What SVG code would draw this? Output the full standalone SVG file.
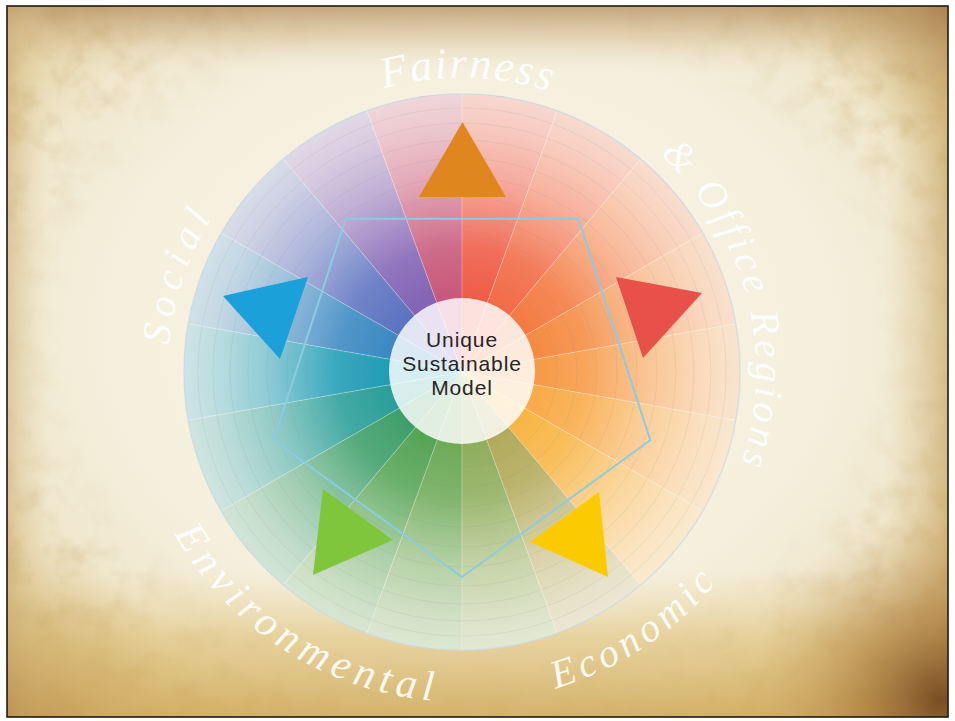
<svg xmlns="http://www.w3.org/2000/svg" xmlns:xlink="http://www.w3.org/1999/xlink" width="955" height="721" viewBox="0 0 955 721">
<defs>
<style>
.sep{stroke:#ffffff;stroke-opacity:0.35;stroke-width:0.9;fill:none}
.ring{fill:none;stroke:#8a8a8a;stroke-opacity:0.16;stroke-width:0.8}
.script{font-family:"Liberation Serif",serif;font-style:italic;fill:#ffffff;fill-opacity:0.9}
.label{font-family:"Liberation Sans",Arial,sans-serif;font-size:21px;letter-spacing:0.9px;fill:#262626;text-anchor:middle}
.tri{stroke:none}
</style>
<radialGradient id="paper" gradientUnits="userSpaceOnUse" cx="470" cy="330" r="560" gradientTransform="translate(470 330) scale(1 0.8) translate(-470 -330)">
<stop offset="0" stop-color="#f8f4e8"/>
<stop offset="0.65" stop-color="#f5efdd"/>
<stop offset="0.85" stop-color="#f0e7cd"/>
<stop offset="1" stop-color="#e6d4a6"/>
</radialGradient>
<linearGradient id="topBand" x1="0" y1="6" x2="0" y2="75" gradientUnits="userSpaceOnUse">
<stop offset="0" stop-color="#b89466" stop-opacity="0.8"/>
<stop offset="0.45" stop-color="#cdb083" stop-opacity="0.45"/>
<stop offset="1" stop-color="#ece2c8" stop-opacity="0"/>
</linearGradient>
<linearGradient id="botBand" x1="0" y1="570" x2="0" y2="717" gradientUnits="userSpaceOnUse">
<stop offset="0" stop-color="#e8d29a" stop-opacity="0"/>
<stop offset="0.45" stop-color="#dfc27a" stop-opacity="0.6"/>
<stop offset="1" stop-color="#cfa95a" stop-opacity="0.85"/>
</linearGradient>
<linearGradient id="rightBand" x1="885" y1="0" x2="948" y2="0" gradientUnits="userSpaceOnUse">
<stop offset="0" stop-color="#dcc48e" stop-opacity="0"/>
<stop offset="1" stop-color="#c4a060" stop-opacity="0.6"/>
</linearGradient>
<linearGradient id="leftBand" x1="7" y1="0" x2="50" y2="0" gradientUnits="userSpaceOnUse">
<stop offset="0" stop-color="#caa86c" stop-opacity="0.5"/>
<stop offset="1" stop-color="#e4d2a4" stop-opacity="0"/>
</linearGradient>
<radialGradient id="cornerBR" gradientUnits="userSpaceOnUse" cx="940" cy="700" r="190">
<stop offset="0" stop-color="#6a3c16" stop-opacity="0.85"/>
<stop offset="0.45" stop-color="#9a6428" stop-opacity="0.45"/>
<stop offset="1" stop-color="#c8a060" stop-opacity="0"/>
</radialGradient>
<radialGradient id="cornerTR" gradientUnits="userSpaceOnUse" cx="945" cy="8" r="130">
<stop offset="0" stop-color="#94693a" stop-opacity="0.5"/>
<stop offset="1" stop-color="#c8a060" stop-opacity="0"/>
</radialGradient>
<radialGradient id="cornerBL" gradientUnits="userSpaceOnUse" cx="8" cy="712" r="170">
<stop offset="0" stop-color="#a87a38" stop-opacity="0.45"/>
<stop offset="1" stop-color="#c8a060" stop-opacity="0"/>
</radialGradient>
<radialGradient id="edgeMaskG" gradientUnits="userSpaceOnUse" cx="470" cy="340" r="540" gradientTransform="translate(470 340) scale(1 0.78) translate(-470 -340)">
<stop offset="0" stop-color="#000"/>
<stop offset="0.75" stop-color="#000"/>
<stop offset="1" stop-color="#fff"/>
</radialGradient>
<mask id="edgeMask" maskUnits="userSpaceOnUse" x="0" y="0" width="955" height="721">
<rect x="0" y="0" width="955" height="721" fill="url(#edgeMaskG)"/>
</mask>
<filter id="grain" x="0" y="0" width="100%" height="100%" filterUnits="objectBoundingBox">
<feTurbulence type="fractalNoise" baseFrequency="0.035" numOctaves="4" seed="7"/>
<feColorMatrix type="matrix" values="0 0 0 0 0.55  0 0 0 0 0.38  0 0 0 0 0.15  2.2 0 0 0 -0.98"/>
</filter>
<radialGradient id="fade" gradientUnits="userSpaceOnUse" cx="462" cy="372" r="278">
<stop offset="0.26" stop-color="#ffffff" stop-opacity="0"/>
<stop offset="0.45" stop-color="#ffffff" stop-opacity="0.12"/>
<stop offset="0.7" stop-color="#fdf8f4" stop-opacity="0.5"/>
<stop offset="0.9" stop-color="#fbf7f2" stop-opacity="0.72"/>
<stop offset="1" stop-color="#f8f6f2" stop-opacity="0.8"/>
</radialGradient>
<path id="cw" d="M462,666 A294,294 0 1,1 462,78 A294,294 0 1,1 462,666"/>
<path id="ccw" d="M462,42 A330,330 0 1,0 462,702 A330,330 0 1,0 462,42"/>
</defs>

<rect x="0" y="0" width="955" height="721" fill="#ffffff"/>
<g id="background">
<rect x="7" y="6" width="941" height="711" fill="url(#paper)"/>
<rect x="7" y="6" width="941" height="711" fill="#9a6a30" filter="url(#grain)" mask="url(#edgeMask)" opacity="0.5"/>
<rect x="7" y="6" width="941" height="75" fill="url(#topBand)"/>
<rect x="7" y="570" width="941" height="147" fill="url(#botBand)"/>
<rect x="885" y="6" width="63" height="711" fill="url(#rightBand)"/>
<rect x="7" y="6" width="43" height="711" fill="url(#leftBand)"/>
<rect x="7" y="6" width="941" height="711" fill="url(#cornerBR)"/>
<rect x="7" y="6" width="941" height="711" fill="url(#cornerTR)"/>
<rect x="7" y="6" width="941" height="711" fill="url(#cornerBL)"/>
<rect x="7" y="6" width="941" height="711" fill="none" stroke="#1e1a14" stroke-width="1.6"/>
</g>

<g id="wheel">
<path d="M462,372 L462,94 A278,278 0 0,1 557.08,110.77 Z" fill="#ef5b45"/>
<path d="M462,372 L557.08,110.77 A278,278 0 0,1 640.70,159.04 Z" fill="#f26a45"/>
<path d="M462,372 L640.70,159.04 A278,278 0 0,1 702.76,233 Z" fill="#f47a40"/>
<path d="M462,372 L702.76,233 A278,278 0 0,1 735.78,323.73 Z" fill="#f58a40"/>
<path d="M462,372 L735.78,323.73 A278,278 0 0,1 735.78,420.27 Z" fill="#f79a45"/>
<path d="M462,372 L735.78,420.27 A278,278 0 0,1 702.76,511 Z" fill="#f9aa48"/>
<path d="M462,372 L702.76,511 A278,278 0 0,1 640.70,584.96 Z" fill="#f8b545"/>
<path d="M462,372 L640.70,584.96 A278,278 0 0,1 557.08,633.23 Z" fill="#b2aa5a"/>
<path d="M462,372 L557.08,633.23 A278,278 0 0,1 462,650 Z" fill="#8fae5c"/>
<path d="M462,372 L462,650 A278,278 0 0,1 366.92,633.23 Z" fill="#6eaa58"/>
<path d="M462,372 L366.92,633.23 A278,278 0 0,1 283.30,584.96 Z" fill="#55a455"/>
<path d="M462,372 L283.30,584.96 A278,278 0 0,1 221.24,511 Z" fill="#3e9f6a"/>
<path d="M462,372 L221.24,511 A278,278 0 0,1 188.22,420.27 Z" fill="#2a9e98"/>
<path d="M462,372 L188.22,420.27 A278,278 0 0,1 188.22,323.73 Z" fill="#1f9cb5"/>
<path d="M462,372 L188.22,323.73 A278,278 0 0,1 221.24,233 Z" fill="#3a88c2"/>
<path d="M462,372 L221.24,233 A278,278 0 0,1 283.30,159.04 Z" fill="#5c72c0"/>
<path d="M462,372 L283.30,159.04 A278,278 0 0,1 366.92,110.77 Z" fill="#8262b4"/>
<path d="M462,372 L366.92,110.77 A278,278 0 0,1 462,94 Z" fill="#c8577a"/>
<circle cx="462" cy="372" r="278" fill="url(#fade)"/>
<g class="ring">
<circle cx="462" cy="372" r="95"/>
<circle cx="462" cy="372" r="115"/>
<circle cx="462" cy="372" r="135"/>
<circle cx="462" cy="372" r="155"/>
<circle cx="462" cy="372" r="175"/>
<circle cx="462" cy="372" r="195"/>
<circle cx="462" cy="372" r="214"/>
<circle cx="462" cy="372" r="232"/>
<circle cx="462" cy="372" r="249"/>
<circle cx="462" cy="372" r="264"/>
</g>
<path class="sep" d="M462,372 L462,94 M462,372 L557.08,110.77 M462,372 L640.70,159.04 M462,372 L702.76,233 M462,372 L735.78,323.73 M462,372 L735.78,420.27 M462,372 L702.76,511 M462,372 L640.70,584.96 M462,372 L557.08,633.23 M462,372 L462,650 M462,372 L366.92,633.23 M462,372 L283.30,584.96 M462,372 L221.24,511 M462,372 L188.22,420.27 M462,372 L188.22,323.73 M462,372 L221.24,233 M462,372 L283.30,159.04 M462,372 L366.92,110.77"/>
<circle cx="462" cy="372" r="278" fill="none" stroke="#cfdde6" stroke-opacity="0.7" stroke-width="1.5"/>
</g>

<g id="connectors">
<polygon points="462,577 650.3,440.2 578.4,218.8 345.6,218.8 273.7,440.2" fill="none" stroke="#8ccbe0" stroke-width="2"/>
</g>

<g id="tri-fairness"><polygon class="tri" points="419,197 506,197 462.5,122" fill="#e0861f"/></g>
<g id="tri-office"><polygon class="tri" points="616,277 702,293 643,358" fill="#e8504a"/></g>
<g id="tri-economic"><polygon class="tri" points="599,492 608,577 530,542" fill="#fcca00"/></g>
<g id="tri-environmental"><polygon class="tri" points="323,489 393,540 313,575" fill="#80c63c"/></g>
<g id="tri-social"><polygon class="tri" points="223,296 308,277 280,359" fill="#1ba0da"/></g>

<g id="center">
<circle cx="462" cy="371" r="73" fill="#ffffff" fill-opacity="0.82"/>
<text class="label" x="462" y="347">Unique</text>
<text class="label" x="462" y="371">Sustainable</text>
<text class="label" x="462" y="395">Model</text>
</g>

<g id="labels">
<text class="script" font-size="44" letter-spacing="2" text-anchor="middle"><textPath xlink:href="#cw" href="#cw" startOffset="50.3%">Fairness</textPath></text>
<text class="script" font-size="40" letter-spacing="4" text-anchor="middle"><textPath xlink:href="#cw" href="#cw" startOffset="71%">&amp; Office Regions</textPath></text>
<text class="script" font-size="40" letter-spacing="7" text-anchor="middle"><textPath xlink:href="#cw" href="#cw" startOffset="30.3%">Social</textPath></text>
<text class="script" font-size="40" letter-spacing="5" text-anchor="middle"><textPath xlink:href="#ccw" href="#ccw" startOffset="59.4%">Economic</textPath></text>
<text class="script" font-size="42" letter-spacing="6" text-anchor="middle"><textPath xlink:href="#ccw" href="#ccw" startOffset="41%">Environmental</textPath></text>
</g>
</svg>
